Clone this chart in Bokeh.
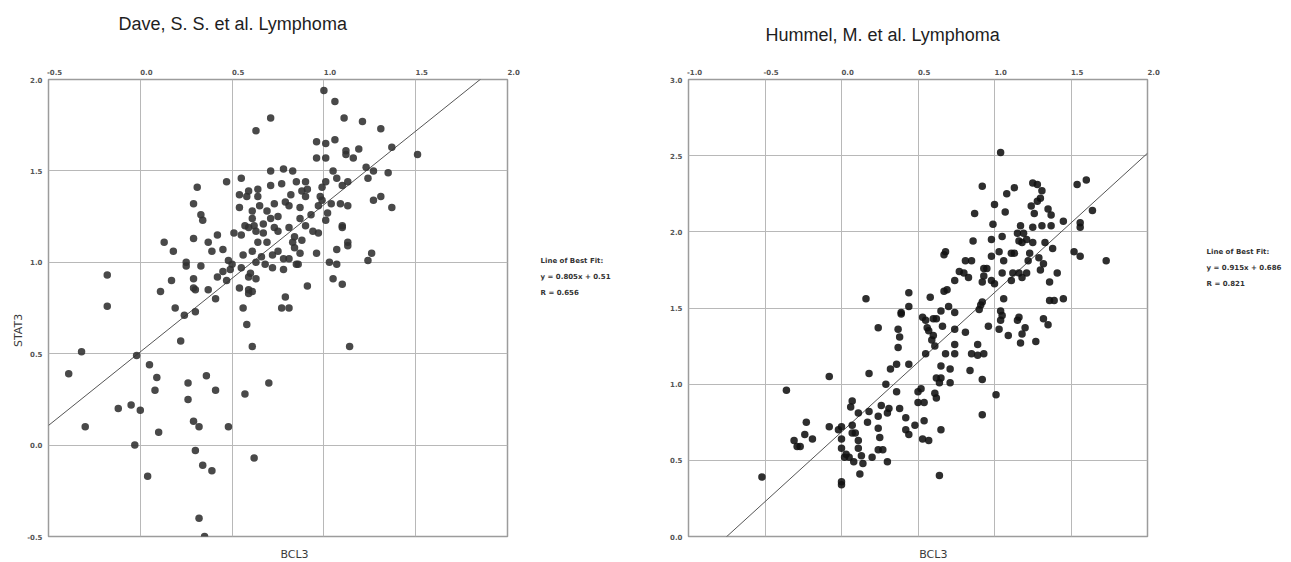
import math
from bokeh.plotting import figure
from bokeh.layouts import row
from bokeh.models import Range1d, Label
from bokeh.embed import file_html
from bokeh.resources import INLINE

# ---------------- data ----------------
dave_title = "Dave, S. S. et al.  Lymphoma"
hummel_title = "Hummel, M. et al.  Lymphoma"
x_label = "BCL3"
y_label = "STAT3"

dave_x_ticks = [-0.5, 0.0, 0.5, 1.0, 1.5, 2.0]
dave_y_ticks = [-0.5, 0.0, 0.5, 1.0, 1.5, 2.0]
hummel_x_ticks = [-1.0, -0.5, 0.0, 0.5, 1.0, 1.5, 2.0]
hummel_y_ticks = [0.0, 0.5, 1.0, 1.5, 2.0, 2.5, 3.0]

dave_fit = (0.805, 0.51)
dave_r = 0.656
hummel_fit = (0.915, 0.686)
hummel_r = 0.821

dave_bcl3 = [
    1.00, 1.06, 0.71, 1.11, 1.21, 0.63, 1.31, 0.96, 1.01, 1.06, 1.37, 1.51, 1.12, 1.19, 1.12, 1.16,
    0.96, 1.01, 1.23, 1.27, 1.35, 1.24, 1.05, 1.07, 1.10, 1.13, 0.71, 0.78, 0.83, 0.55, 0.47, 0.31,
    0.59, 0.54, 0.58, 0.64, 0.64, 0.71, 0.77, 0.85, 0.90, 0.91, 0.82, 0.88, 0.90, 0.99, 1.01, 0.98,
    1.27, 1.31, 1.37, 1.04, 1.09, 1.13, 0.29, 0.33, 0.34, 0.61, 0.65, 0.69, 0.73, 0.79, 0.81, 0.87,
    0.97, 0.99, 1.02, 1.01, 0.61, 0.62, 0.67, 0.71, 0.75, 0.73, 0.81, 0.87, 0.90, 0.93, 1.10, 1.10,
    0.97, 0.29, 0.13, 0.18, 0.37, 0.39, 0.42, 0.45, 0.51, 0.55, 0.57, 0.59, 0.63, 0.69, 0.64, 0.61,
    0.56, 0.75, 0.72, 0.78, 0.83, 0.88, 0.84, 0.87, 0.85, 0.81, 0.96, 1.07, 1.13, 1.13, 1.26, 1.24,
    0.25, 0.25, 0.33, 0.48, 0.50, 0.55, 0.63, 0.68, 0.72, 0.78, 0.86, 1.03, 1.07, 0.29, 0.29, 0.30,
    0.17, 0.11, 0.37, 0.41, 0.42, 0.45, 0.47, 0.49, 0.54, 0.59, 0.60, 0.63, 0.59, 0.61, 0.59, 0.79,
    0.77, 0.81, 0.91, 1.05, 1.10, -0.18, -0.18, 0.19, 0.24, 0.30, 0.56, 0.58, 0.22, 0.61, 1.14, -0.32,
    -0.02, 0.05, -0.39, 0.09, 0.36, 0.26, 0.08, 0.41, 0.70, 0.57, 0.26, -0.12, -0.05, 0.00, 0.29, 0.32,
    0.48, -0.30, 0.10, -0.03, 0.30, 0.62, 0.34, 0.39, 0.04, 0.32, 0.35, 0.75, 0.67, 0.54, 0.66, 0.84,
    0.94,
]
dave_stat3 = [
    1.94, 1.88, 1.79, 1.79, 1.77, 1.72, 1.73, 1.66, 1.65, 1.67, 1.63, 1.59, 1.61, 1.62, 1.59, 1.57,
    1.57, 1.57, 1.52, 1.50, 1.49, 1.46, 1.50, 1.46, 1.42, 1.44, 1.50, 1.51, 1.50, 1.46, 1.44, 1.41,
    1.39, 1.37, 1.36, 1.40, 1.36, 1.42, 1.43, 1.44, 1.44, 1.40, 1.37, 1.39, 1.36, 1.41, 1.44, 1.36,
    1.34, 1.36, 1.30, 1.32, 1.32, 1.31, 1.32, 1.26, 1.23, 1.28, 1.31, 1.28, 1.32, 1.33, 1.31, 1.30,
    1.31, 1.34, 1.27, 1.23, 1.24, 1.20, 1.21, 1.24, 1.25, 1.19, 1.19, 1.24, 1.20, 1.26, 1.20, 1.19,
    1.16, 1.13, 1.11, 1.06, 1.11, 1.06, 1.15, 1.07, 1.16, 1.15, 1.20, 1.19, 1.17, 1.11, 1.11, 1.06,
    1.04, 1.06, 1.04, 1.02, 1.11, 1.12, 1.08, 1.05, 0.99, 1.02, 1.05, 1.07, 1.11, 1.09, 1.05, 1.01,
    1.00, 0.98, 0.98, 1.01, 0.99, 0.97, 1.00, 0.99, 0.97, 0.96, 0.99, 1.00, 0.99, 0.91, 0.86, 0.85,
    0.90, 0.84, 0.85, 0.80, 0.92, 0.95, 0.90, 0.96, 0.86, 0.92, 0.94, 0.91, 0.85, 0.84, 0.83, 0.81,
    0.75, 0.75, 0.87, 0.91, 0.88, 0.93, 0.76, 0.75, 0.71, 0.73, 0.75, 0.66, 0.57, 0.54, 0.54, 0.51,
    0.49, 0.44, 0.39, 0.37, 0.38, 0.34, 0.30, 0.30, 0.34, 0.28, 0.25, 0.20, 0.22, 0.19, 0.13, 0.10,
    0.10, 0.10, 0.07, 0.00, -0.03, -0.07, -0.11, -0.14, -0.17, -0.40, -0.50, 1.17, 1.16, 1.30, 1.03, 1.14,
    1.17,
]

hummel_bcl3 = [
    1.04, 0.92, 1.08, 1.13, 1.25, 1.28, 1.31, 1.30, 1.28, 1.24, 1.26, 1.35, 1.37, 1.54, 1.60, 1.64,
    1.00, 1.07, 0.87, 0.99, 1.45, 1.56, 1.56, 1.37, 1.31, 1.25, 1.17, 1.15, 1.19, 1.21, 1.16, 1.18,
    1.25, 1.33, 1.05, 0.98, 0.86, 1.38, 1.52, 1.56, 1.73, 1.03, 1.11, 1.13, 1.23, 1.29, 1.32, 1.30,
    1.41, 1.22, 1.06, 0.98, 0.85, 0.81, 0.68, 0.67, 0.93, 0.95, 0.93, 0.92, 0.98, 1.05, 1.12, 1.16,
    1.21, 1.11, 1.18, 1.36, 0.74, 0.77, 0.80, 0.83, 0.69, 0.67, 0.44, 0.58, 1.00, 1.06, 1.36, 1.39,
    1.45, 0.92, 0.91, 0.90, 0.16, 0.44, 0.39, 0.39, 0.65, 0.70, 0.74, 1.04, 1.05, 1.04, 1.16, 1.15,
    1.32, 1.35, 0.96, 1.03, 1.09, 1.20, 1.18, 1.17, 1.27, 0.53, 0.55, 0.60, 0.62, 0.56, 0.57, 0.60,
    0.66, 0.59, 0.74, 0.24, 0.37, 0.38, 0.81, 0.74, 0.89, 0.85, 0.89, 0.93, 0.68, 0.74, 0.61, 0.55,
    0.37, 0.44, 0.36, 0.32, 0.18, -0.08, 0.65, 0.71, 0.84, 0.92, 0.62, 0.65, 0.64, 0.71, 0.29, 0.36,
    0.52, 0.50, 0.61, 0.62, -0.36, 1.01, 0.07, 0.06, 0.26, 0.31, 0.30, 0.38, 0.50, 0.54, 0.11, 0.18,
    0.24, 0.42, 0.48, 0.54, 0.92, -0.23, -0.24, -0.19, -0.31, -0.29, -0.27, -0.08, -0.02, 0.00, 0.07, 0.17,
    0.07, 0.09, 0.00, 0.11, 0.24, 0.25, 0.42, 0.44, 0.65, 0.53, 0.57, 0.00, 0.11, 0.02, 0.05, 0.03,
    0.13, 0.14, 0.12, 0.20, 0.24, 0.27, 0.30, 0.00, 0.00, 0.64, -0.52, 0.08,
]
hummel_stat3 = [
    2.52, 2.30, 2.25, 2.29, 2.32, 2.31, 2.27, 2.22, 2.20, 2.17, 2.12, 2.15, 2.11, 2.31, 2.34, 2.14,
    2.18, 2.13, 2.12, 2.05, 2.07, 2.06, 2.03, 2.04, 2.04, 2.03, 2.04, 1.99, 1.99, 1.95, 1.94, 1.93,
    1.93, 1.93, 1.97, 1.95, 1.94, 1.89, 1.87, 1.84, 1.81, 1.87, 1.86, 1.86, 1.86, 1.83, 1.79, 1.75,
    1.73, 1.81, 1.81, 1.84, 1.81, 1.81, 1.87, 1.85, 1.76, 1.76, 1.71, 1.67, 1.68, 1.73, 1.73, 1.73,
    1.73, 1.68, 1.70, 1.67, 1.68, 1.74, 1.73, 1.70, 1.62, 1.61, 1.60, 1.57, 1.66, 1.56, 1.55, 1.55,
    1.56, 1.54, 1.52, 1.49, 1.56, 1.51, 1.47, 1.46, 1.48, 1.51, 1.47, 1.48, 1.45, 1.42, 1.44, 1.42,
    1.43, 1.39, 1.38, 1.36, 1.32, 1.37, 1.33, 1.27, 1.28, 1.44, 1.42, 1.43, 1.43, 1.37, 1.35, 1.32,
    1.38, 1.29, 1.36, 1.37, 1.36, 1.31, 1.34, 1.26, 1.26, 1.20, 1.19, 1.20, 1.20, 1.20, 1.25, 1.20,
    1.24, 1.13, 1.13, 1.10, 1.07, 1.05, 1.12, 1.10, 1.09, 1.03, 1.04, 1.04, 1.01, 1.01, 1.00, 0.95,
    0.97, 0.95, 0.94, 0.91, 0.96, 0.93, 0.89, 0.85, 0.86, 0.84, 0.81, 0.84, 0.88, 0.88, 0.81, 0.82,
    0.79, 0.78, 0.73, 0.76, 0.80, 0.75, 0.67, 0.64, 0.63, 0.59, 0.59, 0.72, 0.70, 0.72, 0.73, 0.75,
    0.68, 0.68, 0.64, 0.63, 0.71, 0.65, 0.70, 0.67, 0.70, 0.64, 0.63, 0.58, 0.58, 0.52, 0.52, 0.54,
    0.53, 0.48, 0.41, 0.52, 0.57, 0.57, 0.49, 0.36, 0.34, 0.40, 0.39, 0.49,
]

# ---------------- styling ----------------
TICK_FONT = "DejaVu Sans"
GRID = "#b8b8b8"
OUTLINE = "#9c9c9c"
PAD = "\u00a0" * 5   # pushes the top tick labels to start at their tick


def panel(xs, ys, xticks, yticks, fit, r, title, title_pos, legend_pos, xlab_pos,
          ylab_pos, width, height, borders, point_color):
    left, right, top, bottom = borders
    p = figure(width=width, height=height, x_axis_location="above",
               x_range=Range1d(xticks[0], xticks[-1]),
               y_range=Range1d(yticks[0], yticks[-1]),
               tools="", toolbar_location=None, output_backend="svg",
               min_border_left=left, min_border_right=right,
               min_border_top=top, min_border_bottom=bottom)
    p.background_fill_color = "white"
    p.border_fill_color = "white"
    p.outline_line_color = OUTLINE
    p.outline_line_width = 1.5

    p.xaxis.ticker = xticks
    p.yaxis.ticker = yticks
    p.xaxis.major_label_overrides = {t: PAD + f"{t:.1f}" for t in xticks}
    p.yaxis.major_label_overrides = {t: f"{t:.1f}" for t in yticks}
    for ax in (p.xaxis, p.yaxis):
        ax.axis_line_color = None
        ax.major_tick_line_color = None
        ax.minor_tick_line_color = None
        ax.major_tick_in = 0
        ax.major_tick_out = 0
        ax.major_label_text_font = TICK_FONT
        ax.major_label_text_font_size = "7px"
        ax.major_label_text_font_style = "bold"
        ax.major_label_text_color = "#555555"
    p.xaxis.major_label_standoff = 3
    p.yaxis.major_label_standoff = 6

    p.xgrid.grid_line_color = GRID
    p.ygrid.grid_line_color = GRID
    p.xgrid.grid_line_width = 1
    p.ygrid.grid_line_width = 1

    # line of best fit across the x range
    m, b = fit
    lx = [xticks[0], xticks[-1]]
    ly = [m * v + b for v in lx]
    p.line(lx, ly, line_color="#555555", line_width=1)

    p.scatter(xs, ys, size=7.5, fill_color=point_color, fill_alpha=0.88,
              line_color=None)

    # texts outside the frame live in side panels so they are not clipped
    p.add_layout(Label(x=title_pos[0], y=title_pos[1], text=title,
                       text_font="Liberation Sans", text_font_size="18px",
                       text_color="#1e1e1e", text_align="left",
                       text_baseline="alphabetic"), "above")
    legend_text = f"Line of Best Fit:\ny = {m}x + {b}\nR = {r}"
    p.add_layout(Label(x=legend_pos[0], y=legend_pos[1], text=legend_text,
                       text_font=TICK_FONT, text_font_size="7px",
                       text_font_style="bold", text_line_height=2.0,
                       text_color="#333333", text_align="left",
                       text_baseline="middle"), "right")
    p.add_layout(Label(x=xlab_pos[0], y=xlab_pos[1], text=x_label,
                       text_font=TICK_FONT, text_font_size="11px",
                       text_color="#3a3a3a", text_align="center",
                       text_baseline="middle"), "below")
    if ylab_pos is not None:
        p.add_layout(Label(x=ylab_pos[0], y=ylab_pos[1], text=y_label,
                           text_font=TICK_FONT, text_font_size="11px",
                           text_color="#3a3a3a", text_align="center",
                           text_baseline="middle", angle=math.pi / 2), "above")
    return p


p1 = panel(dave_bcl3, dave_stat3, dave_x_ticks, dave_y_ticks, dave_fit, dave_r,
           dave_title, (-0.119, 2.302), (2.18, 0.922),
           (0.84, -0.60), (-0.663, 0.627),
           640, 562, (48, 133, 79, 26), "#303030")
p2 = panel(hummel_bcl3, hummel_stat3, hummel_x_ticks, hummel_y_ticks, hummel_fit,
           hummel_r, hummel_title, (-0.497, 3.295), (2.386, 1.762),
           (0.60, -0.12), None,
           651, 562, (48, 144, 78, 26), "#111111")

layout = row(p1, p2)
open("out.html", "w").write(file_html(layout, INLINE))
